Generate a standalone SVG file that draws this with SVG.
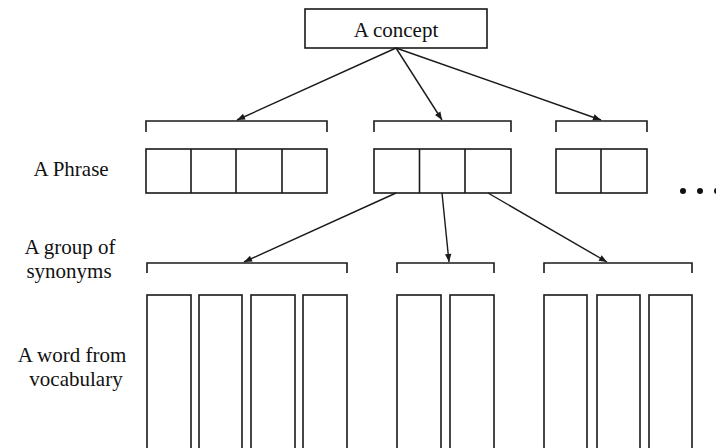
<svg xmlns="http://www.w3.org/2000/svg" width="716" height="448" viewBox="0 0 716 448">
<style>
.box{fill:#fff;stroke:#1a1a1a;stroke-width:1.6}
.br{fill:none;stroke:#1a1a1a;stroke-width:1.6}
.cell{fill:none;stroke:#1a1a1a;stroke-width:1.6}
.con{stroke:#1a1a1a;stroke-width:1.4;fill:none;marker-end:url(#ah)}
.t{font-family:'Liberation Serif','Times New Roman',serif;font-size:21px;fill:#111;text-anchor:middle}
</style>
<defs>
<marker id="ah" viewBox="0 0 10 10" refX="10" refY="5" markerWidth="10" markerHeight="8" markerUnits="userSpaceOnUse" orient="auto">
<path d="M0,1 L10,5 L0,9 Z" fill="#1a1a1a"/>
</marker>
</defs>
<rect width="716" height="448" fill="#fff"/>

<g id="concept">
<rect class="box" x="305" y="9" width="182" height="39"/>
<text class="t" x="396" y="37">A concept</text>
</g>

<g id="labels">
<text class="t" x="71" y="176">A Phrase</text>
<text class="t" x="70" y="254">A group of</text>
<text class="t" x="69" y="278">synonyms</text>
<text class="t" x="72" y="362">A word from</text>
<text class="t" x="76" y="386">vocabulary</text>
</g>

<g id="phrase1">
<path class="br" d="M146,132 V121 H327 V132"/>
<rect class="box" x="146" y="149" width="181" height="44"/>
<path class="cell" d="M191,149 V193 M236,149 V193 M282,149 V193"/>
</g>
<g id="phrase2">
<path class="br" d="M374,132 V121 H511 V132"/>
<rect class="box" x="374" y="149" width="137" height="44"/>
<path class="cell" d="M419.5,149 V193 M465,149 V193"/>
</g>
<g id="phrase3">
<path class="br" d="M556,132 V121 H647 V132"/>
<rect class="box" x="556" y="149" width="91" height="44"/>
<path class="cell" d="M601,149 V193"/>
</g>

<g id="ellipsis" fill="#111">
<circle cx="683" cy="191" r="3"/>
<circle cx="700" cy="191" r="3"/>
<circle cx="717" cy="191" r="3"/>
</g>

<g id="group1">
<path class="br" d="M147,273 V263 H347 V273"/>
<rect class="box" x="147" y="295" width="44" height="160"/>
<rect class="box" x="199" y="295" width="43" height="160"/>
<rect class="box" x="251" y="295" width="44" height="160"/>
<rect class="box" x="303" y="295" width="44" height="160"/>
</g>
<g id="group2">
<path class="br" d="M397,273 V263 H494 V273"/>
<rect class="box" x="397" y="295" width="44" height="160"/>
<rect class="box" x="450" y="295" width="44" height="160"/>
</g>
<g id="group3">
<path class="br" d="M544,273 V263 H692 V273"/>
<rect class="box" x="544" y="295" width="43" height="160"/>
<rect class="box" x="597" y="295" width="43" height="160"/>
<rect class="box" x="649" y="295" width="43" height="160"/>
</g>

<g id="connectors">
<line class="con" x1="396" y1="48" x2="237" y2="120"/>
<line class="con" x1="396" y1="48" x2="442" y2="120"/>
<line class="con" x1="396" y1="48" x2="601" y2="120"/>
<line class="con" x1="396" y1="193" x2="244" y2="262"/>
<line class="con" x1="442" y1="193" x2="449" y2="262"/>
<line class="con" x1="488" y1="193" x2="607" y2="262"/>
</g>
</svg>
